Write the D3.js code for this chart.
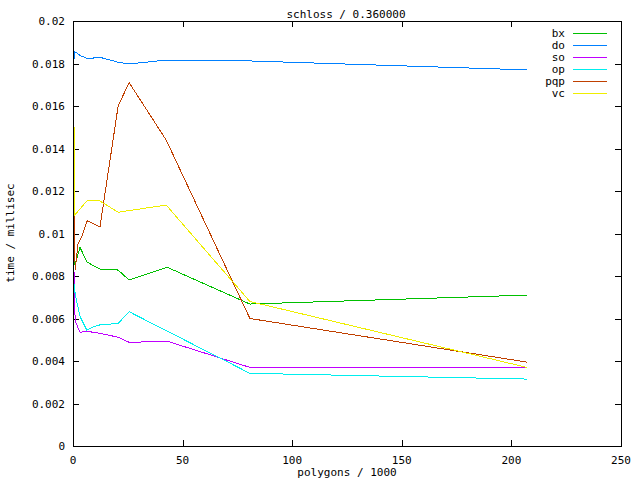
<!DOCTYPE html>
<html><head><meta charset="utf-8">
<script src="https://cdn.jsdelivr.net/npm/d3@7"></script>
<style>body{margin:0;background:#fff}svg{display:block}text{font-family:"DejaVu Sans Mono",monospace;font-size:11px;fill:#000}</style>
</head><body>
<svg id="c" width="640" height="480"></svg>
<script>
const title = "schloss / 0.360000";
const xLabel = "polygons / 1000";
const yLabel = "time / millisec";
const xTicks = [0, 50, 100, 150, 200, 250];
const yTicks = [0, 0.002, 0.004, 0.006, 0.008, 0.01, 0.012, 0.014, 0.016, 0.018, 0.02];
const seriesNames = ["bx", "do", "so", "op", "pqp", "vc"];
const seriesColors = ["#00c000", "#0080ff", "#c000ff", "#00eeee", "#c04000", "#eeee00"];

const bxX = [0.4, 0.8, 3.2, 6.3, 9, 12.3, 20.6, 25.6, 43, 80.7, 207];
const bxY = [0.0097, 0.0085, 0.00935, 0.00867, 0.0085, 0.00833, 0.00828, 0.00781, 0.00841, 0.00668, 0.0071];
const doX = [0.3, 0.9, 1.8, 3.2, 6.3, 9, 10, 12.3, 20.6, 25.6, 42.5, 80.7, 207];
const doY = [0.01808, 0.01855, 0.0185, 0.01838, 0.01824, 0.01824, 0.01829, 0.01829, 0.01806, 0.01798, 0.01816, 0.01812, 0.0177];
const soX = [0.4, 0.7, 1.2, 3.2, 6.3, 12.3, 20.6, 25.6, 33.5, 43, 80.7, 207];
const soY = [0.0086, 0.0064, 0.00583, 0.00535, 0.0054, 0.0053, 0.00512, 0.00488, 0.0049, 0.00493, 0.0037, 0.0037];
const opX = [0.4, 0.6, 0.8, 1.5, 3.2, 6.3, 9, 12.3, 20.6, 25.6, 80.7, 207];
const opY = [0.0078, 0.0072, 0.0073, 0.0069, 0.0061, 0.00546, 0.0056, 0.0057, 0.00577, 0.00632, 0.00342, 0.00315];
const pqpX = [0.4, 1.0, 2.3, 3.8, 6.5, 12.3, 20.6, 25.6, 42.5, 80.7, 207];
const pqpY = [0.0112, 0.0083, 0.0095, 0.0098, 0.0106, 0.0103, 0.0160, 0.0171, 0.0144, 0.0060, 0.00395];
const vcX = [0.5, 0.8, 6.3, 12.3, 20.6, 42.5, 80.7, 207];
const vcY = [0.0150, 0.01087, 0.01153, 0.01153, 0.0110, 0.01134, 0.0068, 0.0037];

const seriesX = [bxX, doX, soX, opX, pqpX, vcX];
const seriesY = [bxY, doY, soY, opY, pqpY, vcY];

const svg = d3.select("#c");
const L = 73, R = 621, T = 21, B = 446;
const x = d3.scaleLinear().domain([0, 250]).range([L, R]);
const y = d3.scaleLinear().domain([0, 0.02]).range([B, T]);

const fmtY = d => d === 0 ? "0" : String(+d.toFixed(3));

// ticks (inward, mirrored)
const g = svg.append("g").attr("shape-rendering", "crispEdges").attr("stroke", "#000");
g.selectAll(".yl").data(yTicks).join("line").attr("class","yl")
  .attr("x1", L).attr("x2", L + 6).attr("y1", d => Math.round(y(d)) + 0.5).attr("y2", d => Math.round(y(d)) + 0.5);
g.selectAll(".yr").data(yTicks).join("line").attr("class","yr")
  .attr("x1", R - 6).attr("x2", R).attr("y1", d => Math.round(y(d)) + 0.5).attr("y2", d => Math.round(y(d)) + 0.5);
g.selectAll(".xb").data(xTicks).join("line").attr("class","xb")
  .attr("y1", B - 6).attr("y2", B).attr("x1", d => Math.round(x(d)) + 0.5).attr("x2", d => Math.round(x(d)) + 0.5);
g.selectAll(".xt").data(xTicks).join("line").attr("class","xt")
  .attr("y1", T).attr("y2", T + 6).attr("x1", d => Math.round(x(d)) + 0.5).attr("x2", d => Math.round(x(d)) + 0.5);

// tick labels
svg.append("g").selectAll("text").data(yTicks).join("text")
  .attr("x", 65).attr("y", d => y(d) + 4).attr("text-anchor", "end").text(fmtY);
svg.append("g").selectAll("text").data(xTicks).join("text")
  .attr("x", d => x(d)).attr("y", 464).attr("text-anchor", "middle").text(d => d);

// titles
svg.append("text").attr("x", 346).attr("y", 18).attr("text-anchor", "middle").text(title);
svg.append("text").attr("x", 347).attr("y", 476).attr("text-anchor", "middle").text(xLabel);
svg.append("text").attr("transform", "translate(14,233) rotate(-90)").attr("text-anchor", "middle").text(yLabel);

// data lines
const line = d3.line().x(d => x(d[0])).y(d => y(d[1]));
const lg = svg.append("g").attr("fill", "none").attr("stroke-width", 1).attr("shape-rendering", "crispEdges");
seriesNames.forEach((n, i) => {
  const pts = seriesX[i].map((v, j) => [v, seriesY[i][j]]);
  lg.append("path").attr("d", line(pts)).attr("stroke", seriesColors[i]);
});

// legend
const leg = svg.append("g");
seriesNames.forEach((n, i) => {
  const yy = 33 + 12 * i;
  leg.append("text").attr("x", 565).attr("y", yy + 4).attr("text-anchor", "end").text(n);
  leg.append("rect").attr("x", 573).attr("y", yy).attr("width", 34).attr("height", 1)
    .attr("fill", seriesColors[i]).attr("shape-rendering", "crispEdges");
});

// frame
svg.append("rect").attr("x", L + 0.5).attr("y", T + 0.5).attr("width", R - L).attr("height", B - T)
  .attr("fill", "none").attr("stroke", "#000").attr("shape-rendering", "crispEdges");
</script>
</body></html>
